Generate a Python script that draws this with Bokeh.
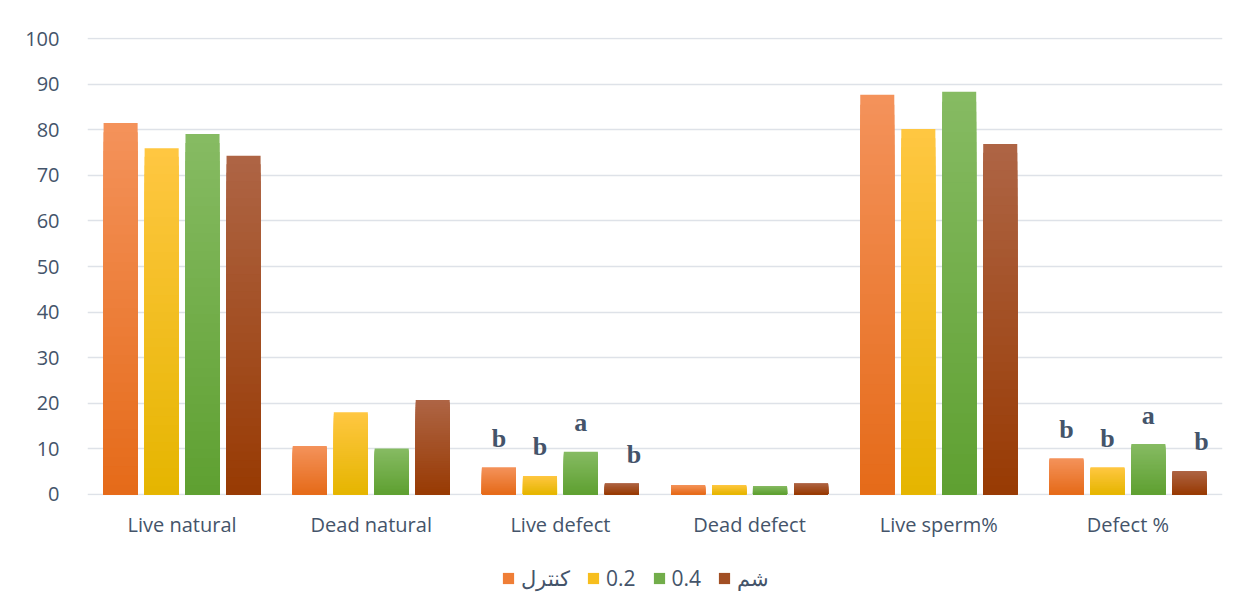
from bokeh.plotting import figure
from bokeh.models import ColumnDataSource, FactorRange, Legend, LegendItem, Range1d
from bokeh.layouts import column
from bokeh.transform import dodge
from bokeh.core.properties import value
from bokeh.embed import file_html
from bokeh.resources import INLINE

categories = ["Live natural", "Dead natural", "Live defect", "Dead defect", "Live sperm%", "Defect %"]
series_names = ["كنترل", "0.2", "0.4", "شم"]
control = [81.5, 10.6, 5.9, 2.0, 87.7, 7.9]
dose_02 = [76.0, 18.0, 4.0, 2.0, 80.2, 5.9]
dose_04 = [79.1, 10.0, 9.3, 1.8, 88.4, 11.0]
sham = [74.3, 20.7, 2.4, 2.4, 76.9, 5.1]
letters_control = ["", "", "b", "", "", "b"]
letters_02 = ["", "", "b", "", "", "b"]
letters_04 = ["", "", "a", "", "", "a"]
letters_sham = ["", "", "b", "", "", "b"]
y_ticks = [0, 10, 20, 30, 40, 50, 60, 70, 80, 90, 100]

series = [control, dose_02, dose_04, sham]
letters = [letters_control, letters_02, letters_04, letters_sham]
top_colors = ["#F4935B", "#FFC742", "#86BB63", "#AE6545"]
bot_colors = ["#E56A19", "#E5B500", "#5FA031", "#983A03"]
legend_colors = ["#EF7E36", "#F7BE1E", "#72AD4A", "#A24F24"]
offsets = [-0.325, -0.108, 0.108, 0.325]
letter_dx = [0, 0, 0, 12]
TEXT = "#44546A"
FONT = "Open Sans"

p = figure(x_range=FactorRange(*categories, range_padding=0), y_range=Range1d(-0.3, 100.3),
           frame_width=1135, frame_height=458, output_backend="svg", toolbar_location=None,
           min_border_left=87, min_border_right=12, min_border_top=37, min_border_bottom=50)
p.outline_line_color = None
p.xgrid.grid_line_color = None
p.ygrid.grid_line_color = "#DEE2E8"
p.ygrid.grid_line_width = 1.6
p.yaxis.ticker = y_ticks
for ax in (p.xaxis, p.yaxis):
    ax.axis_line_color = None
    ax.major_tick_line_color = None
    ax.minor_tick_line_color = None
    ax.major_label_text_color = TEXT
    ax.major_label_text_font = FONT
    ax.major_label_text_font_size = "20px"
p.yaxis.major_label_standoff = 22
p.xaxis.major_label_standoff = 9


def mix(c1, c2, t):
    a = [int(c1[i:i + 2], 16) for i in (1, 3, 5)]
    b = [int(c2[i:i + 2], 16) for i in (1, 3, 5)]
    return "#%02x%02x%02x" % tuple(round(a[j] + (b[j] - a[j]) * t) for j in range(3))


N = 40
for s, vals in enumerate(series):
    for k in range(N - 1, -1, -1):
        src = ColumnDataSource(dict(cat=categories,
                                    t=[v * (k + 1) / N for v in vals]))
        col = mix(bot_colors[s], top_colors[s], (k + 0.5) / N)
        p.vbar(x=dodge("cat", offsets[s], range=p.x_range), bottom=0, top="t", width=0.18,
               source=src, fill_color=col, line_color=None)
    lsrc = ColumnDataSource(dict(cat=categories, y=vals, txt=letters[s]))
    p.text(x=dodge("cat", offsets[s], range=p.x_range), y="y", text="txt", source=lsrc,
           text_align="center", text_baseline="alphabetic", y_offset=-29, x_offset=letter_dx[s],
           text_font=value("Liberation Serif"), text_font_style="bold", text_font_size="26px",
           text_color=TEXT)

# legend strip below the chart (swatch renderers sit outside the visible range)
lg = figure(frame_width=1234, frame_height=60, x_range=(0, 1), y_range=(0, 1), output_backend="svg",
            toolbar_location=None, min_border=0, x_axis_location=None, y_axis_location=None)
lg.grid.visible = False
lg.outline_line_color = None
items = []
for s in range(4):
    r = lg.vbar(x=[5], top=[5], bottom=[4], width=0.1, fill_color=legend_colors[s], line_color=None)
    items.append(LegendItem(label=series_names[s], renderers=[r]))
legend = Legend(items=items, orientation="horizontal", location=(501, 13),
                label_text_font=FONT, label_text_font_size="21px", label_text_color=TEXT,
                glyph_width=14, glyph_height=14, spacing=16, label_standoff=6,
                border_line_color=None, background_fill_alpha=0, margin=0, padding=4)
lg.add_layout(legend, "center")

open("out.html", "w").write(file_html(column(p, lg, spacing=0), INLINE))
